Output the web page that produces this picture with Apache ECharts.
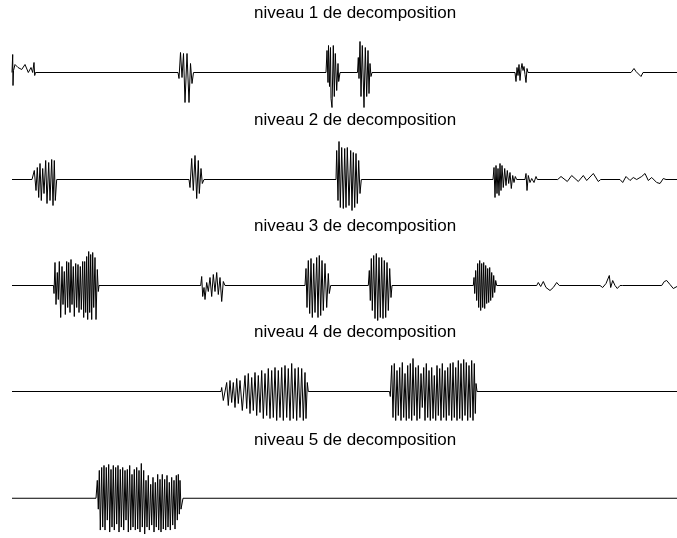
<!DOCTYPE html>
<html lang="fr">
<head>
    <meta charset="utf-8"/>
    <script src="https://cdn.jsdelivr.net/npm/echarts@6/dist/echarts.min.js"></script>
</head>
<body style="margin: 0; background: #fff">
<div id="container" style="width: 677px;height:538px;"></div>
<script type="text/javascript">
    // titres des panneaux
    var titres = ['niveau 1 de decomposition', 'niveau 2 de decomposition', 'niveau 3 de decomposition',
        'niveau 4 de decomposition', 'niveau 5 de decomposition'];

    // coefficients de detail : [temps, amplitude]
    var niveau1 = [
        [12, 0], [12.7, 18], [13, -13], [13.5, 2], [15, 8], [18, 5], [21.7, 3], [25, 8], [28.3, 0], [31, 5], [32.7, 0], [34, 10], [34.7, -3], [35.5, 0],
        [178, 0], [179, -6], [180.5, 20], [182, -5], [183.5, 19], [185, -30], [187, 19], [189, -30], [190.5, 9], [192, -11], [193.5, 0],
        [326, 0], [327, 22], [328, -10], [328.5, 27], [329.5, -14], [330.5, 25], [331, -26], [332, -35], [333.3, 27], [334.3, -24], [335.3, 19], [336.7, -18], [338, 9], [338.7, -9], [340, 0],
        [357.5, 0], [358.3, 15], [359, -6], [360, 31], [361, -24], [362.3, 27], [364, -35], [365.3, 25], [366.7, -24], [368, 22], [369, -21], [370, 9], [371, -4], [372, 0],
        [515, 0], [516, -9], [517, 5], [518, -3], [519, 8], [520, -8], [521, 3], [522, 9], [523, 2], [524, 6], [525, -2], [526, -10], [527, 4], [528, 0],
        [631, 0], [634, 4], [636, 1], [641, -4], [643, 0], [677, 0]
    ];

    var niveau2 = [
        [12, 0],
        [32, 0], [32.5, -2], [34.3, 9], [36, -11], [37.3, 12], [38.7, -18], [40, 16], [41.3, -21], [42.7, 11], [44, -14], [45.7, 19], [47, -24], [48.7, 17], [50, -21], [51.7, 20], [53, -26], [54.3, 19], [55.3, -21], [56.7, 0],
        [189, 0], [190, -8], [191.7, 21], [193.3, -11], [195, 24], [196.7, -19], [198.3, 19], [199.3, -14], [201, 11], [202.3, -4], [204, 0],
        [336, 0], [336.7, 29], [338, -21], [339, 38], [340.3, -28], [341.7, 32], [343.3, -29], [344.7, 31], [346, -28], [347.3, 32], [349, -26], [350.7, 29], [352, -31], [353.3, 27], [354.7, -28], [356, 26], [357.3, -24], [358.7, 19], [360, -14], [361.3, 0],
        [493, 0], [494, 12], [495, -18], [496, 14], [497, -14], [498, 11], [499, -16], [500, 16], [501, -11], [502, 14], [503.3, -8], [504.7, 11], [506, -6], [507.3, 9], [508.7, -4], [510, 7], [511.3, -9], [512.7, 4], [514, -3], [515.3, 3], [516.7, 0],
        [525, 0], [526, 6], [527, -11], [528.3, 4], [530, -3], [531.7, 1], [534, -3], [536, 3], [537.3, 0],
        [557.7, 0], [561, 3], [567.3, -2], [571.7, 4], [578.3, -2], [583.3, 4], [586.7, -1], [593.3, 6], [598.3, -2], [600.7, 0],
        [620, 0], [622.7, -3], [626, 3], [630, -1], [633.3, 2], [636.7, 0], [641.7, 3], [645, 6], [648.3, -1], [651.7, 2], [656.7, -3], [660, -4], [663.3, 1], [666, 0],
        [677, 0]
    ];

    var niveau3 = [
        [12, 0],
        [53.5, 0], [54, -8], [55, 23], [56, -19], [57.3, 13], [58.3, -14], [59.3, 24], [60.7, -32], [62, 19], [63, -19], [64.3, 14], [65.3, -29], [66.7, 24], [67.7, -22], [68.7, 23], [70, -27], [71, 26], [72, -19], [73.3, 19], [74.3, -31], [75.7, 22], [76.7, -22], [78, 21], [79, -27], [80.3, 19], [81.3, -24], [82.7, 24], [83.7, -32], [84.7, 24], [85.7, -27], [86.7, 29], [87.7, -34], [88.7, 34], [89.7, -27], [90.7, 31], [91.7, -34], [92.7, 33], [93.7, -22], [95, 28], [96, -34], [97.3, 16], [98.3, -6], [99, 0],
        [200.7, 0], [201.7, 9], [202.7, -11], [204, -2], [205, -14], [206.7, 3], [208.3, -6], [210, 8], [211.7, -11], [213.3, 11], [215, -6], [216.7, 13], [218.3, -9], [220, 8], [221.7, -16], [223.3, 4], [225, 0],
        [305, 0], [306, 17], [307, -22], [308.3, 25], [309.7, -28], [311, 27], [312.3, -32], [313.7, 22], [315, -27], [316.7, 28], [318, -32], [319.3, 30], [320.7, -30], [322, 25], [323.3, -25], [325, 22], [326.7, -22], [328.3, 12], [329.3, -8], [330.7, 0],
        [368.3, 0], [369.3, 15], [370.3, -15], [371.3, 27], [372.3, -25], [373.7, 30], [375, -33], [376.3, 32], [377.7, -35], [379, 28], [380.3, -32], [381.7, 28], [383, -33], [384.3, 25], [385.7, -32], [387, 23], [388.3, -25], [389.7, 17], [391, -12], [392, 0],
        [473.3, 0], [474, 8], [474.7, -8], [475.7, 15], [476.7, -15], [477.7, 22], [478.7, -22], [479.7, 25], [480.7, -25], [481.7, 22], [482.7, -22], [483.7, 23], [484.7, -23], [485.7, 20], [486.7, -18], [487.7, 17], [488.7, -17], [489.7, 18], [490.7, -15], [491.7, 13], [492.7, -12], [493.7, 10], [494.7, -7], [495.7, 5], [496.7, 0],
        [536.7, 0], [538.3, 3], [540.7, -1], [543.3, 4], [546, -2], [550, -5], [553.3, -2], [556.7, 3], [559.3, 0],
        [600, 0], [602.7, -2], [606, 2], [609.3, 10], [610.7, -2], [612.7, 5], [615, 0], [617.3, -3], [620, 0], [622.7, 0],
        [661.7, 0], [664.3, 4], [666.7, 5], [670, 1], [673.3, -3], [677, -1]
    ];

    var niveau4 = [
        [12, 0],
        [221, 0], [221.7, 4], [223.3, -9], [226.7, 9], [228.3, -14], [230, 11], [231.7, -11], [233.3, 9], [235, -16], [236.7, 13], [238.3, -12], [240, 11], [242.3, -19], [245, 16], [246.7, -17], [248.3, 18], [250, -22], [251.7, 14], [253.3, -19], [255, 19], [256.7, -24], [258.3, 16], [260, -21], [261.7, 21], [263.3, -27], [265, 18], [266.7, -24], [268.3, 23], [270, -27], [271.7, 21], [273.3, -26], [275, 24], [276.7, -29], [278.3, 21], [280, -26], [281.7, 24], [283.3, -29], [285, 26], [286.7, -26], [288.3, 23], [290, -29], [291.7, 28], [293.3, -27], [295, 23], [296.7, -29], [298.3, 24], [300, -26], [301.7, 23], [303.3, -29], [305, 19], [306, -27], [307.3, 9], [308.3, 0],
        [389.5, 0], [390.3, -5], [391.7, 26], [393, -26], [394.3, 28], [395.7, -29], [397, 21], [398.3, -24], [399.7, 24], [401, -29], [402.3, 29], [403.7, -26], [405, 18], [406.3, -29], [407.7, 26], [409, -27], [410.3, 28], [411.7, -29], [413, 33], [414.3, -24], [415.7, 24], [417, -29], [418.3, 26], [419.7, -27], [421, 18], [422.3, -16], [423.7, 24], [425, -29], [426.3, 28], [427.7, -26], [429, 21], [430.3, -29], [431.7, 24], [433, -27], [434.3, 16], [435.7, -29], [437, 26], [438.3, -24], [439.7, 23], [441, -29], [442.3, 28], [443.7, -26], [445, 21], [446.3, -29], [447.7, 24], [449, -24], [450.3, 28], [451.7, -29], [453, 29], [454.3, -26], [455.7, 24], [457, -29], [458.3, 31], [459.7, -27], [461, 28], [462.3, -29], [463.7, 32], [465, -24], [466.3, 29], [467.7, -29], [469, 26], [470.3, -26], [471.7, 31], [473, -29], [474.3, 28], [475.3, -22], [476, 8], [477, 0],
        [677, 0]
    ];

    var niveau5 = [
        [12, 0],
        [96, 0], [97.3, 18], [98.3, -11], [99.3, 28], [100.3, -32], [101.7, 31], [102.7, -29], [104, 33], [105, -32], [106.3, 31], [107.3, -22], [108.7, 34], [109.7, -34], [111, 29], [112, -29], [113.3, 33], [114.3, -32], [115.7, 31], [116.7, -26], [118, 33], [119, -34], [120.3, 29], [121.3, -29], [122.7, 31], [123.7, -32], [125, 28], [126, -22], [127.3, 29], [128.3, -34], [129.7, 33], [130.7, -32], [132, 24], [133, -29], [134.3, 29], [135.3, -32], [136.7, 31], [137.7, -31], [139, 28], [140, -34], [141.3, 35], [142.3, -29], [143.7, 28], [144.7, -36], [146, 18], [147, -29], [148.3, 23], [149.3, -32], [150.7, 14], [151.7, -27], [153, 21], [154, -34], [155.3, 16], [156.3, -29], [157.7, 24], [158.7, -32], [160, 19], [161, -34], [162.3, 24], [163.3, -31], [164.7, 19], [165.7, -32], [167, 23], [168, -29], [169.3, 16], [170.3, -32], [171.7, 21], [172.7, -27], [174, 18], [175, -31], [176.3, 23], [177.3, -22], [178.3, 24], [179.3, -16], [180, 18], [181, -11], [182, -10], [183, 0],
        [677, 0]
    ];

    var niveaux = [niveau1, niveau2, niveau3, niveau4, niveau5];
    var lignesBase = [72, 179, 285, 391, 498];
    var hautTitres = [5, 112, 218, 324, 432];

    var myChart = echarts.init(document.getElementById('container'));

    var grids = [], xAxes = [], yAxes = [], series = [], titles = [];
    for (var i = 0; i < niveaux.length; i++) {
        // +0.5 pour que la ligne de base tombe sur un pixel entier
        grids.push({left: 12, right: 0, top: lignesBase[i] - 40 + 0.5, height: 80});
        xAxes.push({type: 'value', gridIndex: i, min: 12, max: 677, show: false});
        yAxes.push({type: 'value', gridIndex: i, min: -40, max: 40, show: false});
        series.push({
            type: 'line',
            xAxisIndex: i,
            yAxisIndex: i,
            data: niveaux[i],
            showSymbol: false,
            lineStyle: {color: '#000', width: 1},
            silent: true
        });
        titles.push({
            text: titres[i],
            left: 254,
            top: hautTitres[i],
            padding: 0,
            textStyle: {fontFamily: 'Liberation Sans', fontSize: 17, fontWeight: 'normal', color: '#000'}
        });
    }

    var option = {
        animation: false,
        backgroundColor: '#fff',
        title: titles,
        grid: grids,
        xAxis: xAxes,
        yAxis: yAxes,
        series: series
    };

    myChart.setOption(option);
</script>
</body>
</html>
